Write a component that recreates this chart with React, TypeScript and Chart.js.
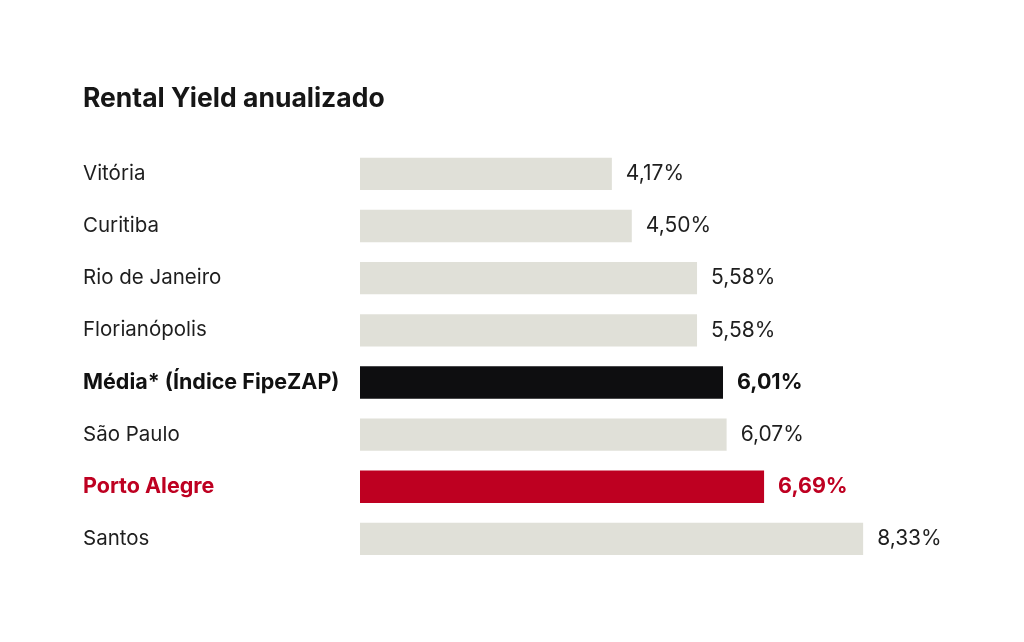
import React, { useEffect, useRef } from "react";
import { Chart, registerables } from "chart.js";

Chart.register(...registerables);

const categories = [
  "Vitória",
  "Curitiba",
  "Rio de Janeiro",
  "Florianópolis",
  "Média* (Índice FipeZAP)",
  "São Paulo",
  "Porto Alegre",
  "Santos",
];
const yieldValues = [4.17, 4.5, 5.58, 5.58, 6.01, 6.07, 6.69, 8.33];
const valueLabels = ["4,17%", "4,50%", "5,58%", "5,58%", "6,01%", "6,07%", "6,69%", "8,33%"];
const titleText = "Rental Yield anualizado";

const GREY = "#E0E0D8";
const BLACK = "#0E0E10";
const RED = "#BE0021";
const TEXT = "#1E1E1E";
const FONT = "Inter, 'Noto Sans', sans-serif";

const rowColor = (i: number) => (i === 4 ? BLACK : i === 6 ? RED : GREY);
const textColor = (i: number) => (i === 6 ? RED : i === 4 ? "#111111" : TEXT);
const isBold = (i: number) => i === 4 || i === 6;

export default function App() {
  const ref = useRef<HTMLCanvasElement | null>(null);

  useEffect(() => {
    document.body.style.margin = "0";
    const canvas = ref.current;
    if (!canvas) return;

    const valuePlugin = {
      id: "valueLabels",
      afterDatasetsDraw(chart: any) {
        const ctx = chart.ctx;
        const meta = chart.getDatasetMeta(0);
        ctx.save();
        meta.data.forEach((bar: any, i: number) => {
          ctx.font = isBold(i) ? `bold 21.5px ${FONT}` : `21px ${FONT}`;
          ctx.fillStyle = textColor(i);
          ctx.textAlign = "left";
          ctx.textBaseline = "middle";
          ctx.fillText(valueLabels[i], bar.x + 14, bar.y);
        });
        ctx.restore();
      },
    };

    const chart = new Chart(canvas, {
      type: "bar",
      data: {
        labels: categories,
        datasets: [
          {
            data: yieldValues,
            backgroundColor: categories.map((_, i) => rowColor(i)),
            borderWidth: 0,
            barPercentage: 0.62,
            categoryPercentage: 1,
          },
        ],
      },
      options: {
        indexAxis: "y",
        animation: false,
        responsive: false,
        devicePixelRatio: 1,
        layout: { padding: { left: 83, right: 60, top: 83, bottom: 77 } },
        plugins: {
          legend: { display: false },
          tooltip: { enabled: false },
          title: {
            display: true,
            text: titleText,
            align: "start",
            color: "#161616",
            font: { family: FONT, size: 26.5, weight: "bold" },
            padding: { top: 0, bottom: 33 },
          },
        },
        scales: {
          x: {
            display: false,
            min: 0,
            max: 10,
          },
          y: {
            grid: { display: false },
            border: { display: false },
            afterFit(scale: any) {
              scale.width = 277;
            },
            ticks: {
              crossAlign: "far",
              color: (c: any) => textColor(c.index),
              font: (c: any) => ({
                family: FONT,
                size: isBold(c.index) ? 21.5 : 20.5,
                weight: isBold(c.index) ? "bold" : "normal",
              }),
            },
          },
        },
      },
      plugins: [valuePlugin],
    } as any);

    return () => chart.destroy();
  }, []);

  return <canvas ref={ref} width={1024} height={642} style={{ display: "block" }} />;
}
